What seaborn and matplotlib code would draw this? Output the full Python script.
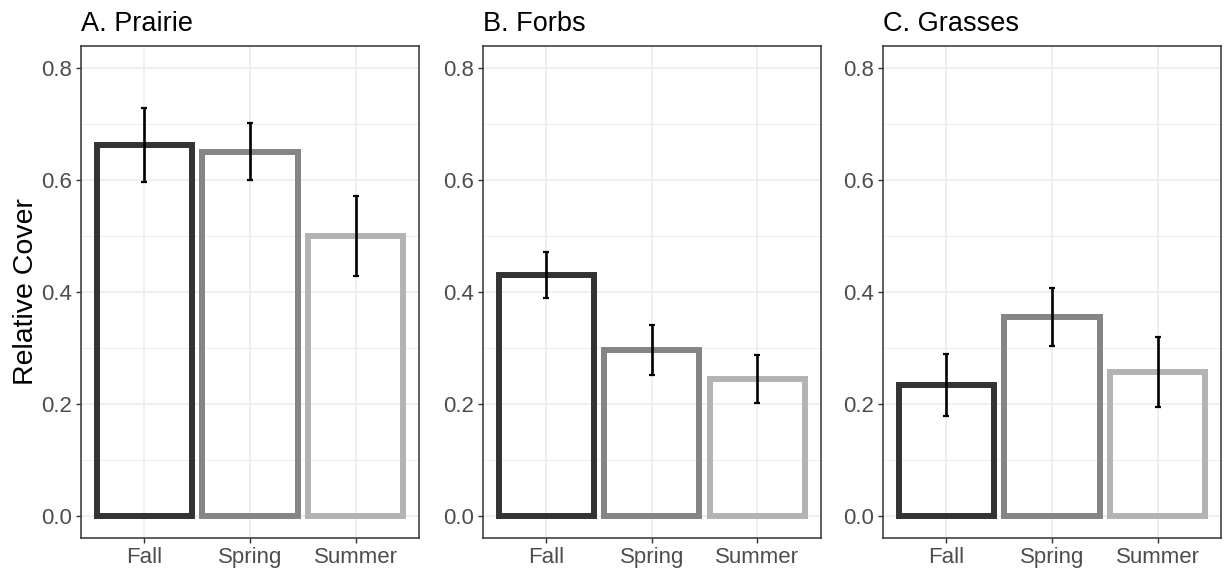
import matplotlib
matplotlib.use("Agg")
import matplotlib.pyplot as plt
import seaborn as sns
import pandas as pd
from matplotlib.ticker import FixedLocator

# Seasonal relative cover (mean and standard error) for each vegetation group
seasons = ["Fall", "Spring", "Summer"]
panel_titles = ["A. Prairie", "B. Forbs", "C. Grasses"]

prairie_mean = [0.663, 0.650, 0.500]
prairie_se = [0.066, 0.051, 0.071]
forbs_mean = [0.431, 0.296, 0.244]
forbs_se = [0.041, 0.045, 0.043]
grasses_mean = [0.234, 0.355, 0.257]
grasses_se = [0.055, 0.052, 0.062]

y_ticks = [0.0, 0.2, 0.4, 0.6, 0.8]
y_minor = [0.1, 0.3, 0.5, 0.7]
season_colors = {"Fall": "#333333", "Spring": "#858585", "Summer": "#b3b3b3"}

groups = [
    (panel_titles[0], prairie_mean, prairie_se),
    (panel_titles[1], forbs_mean, forbs_se),
    (panel_titles[2], grasses_mean, grasses_se),
]

sns.set_theme(style="white")
plt.rcParams["font.family"] = ["Liberation Sans", "DejaVu Sans"]

fig = plt.figure(figsize=(12.25, 5.76), dpi=100)
lefts = [81 / 1225, 482.7 / 1225, 883 / 1225]
width = 338 / 1225
bottom = 1 - 538.4 / 576
height = (538.4 - 45.5) / 576

for i, (title, means, ses) in enumerate(groups):
    ax = fig.add_axes([lefts[i], bottom, width, height])
    df = pd.DataFrame({"season": seasons, "cover": means, "se": ses})
    sns.barplot(
        data=df, x="season", y="cover", hue="season", order=seasons,
        hue_order=seasons, palette=season_colors, fill=False, width=0.9,
        linewidth=4.3, errorbar=None, legend=False, ax=ax,
    )
    for patch in ax.patches:
        patch.set_joinstyle("miter")
        patch.set_zorder(2)
    ax.errorbar(
        x=list(range(len(seasons))), y=df["cover"], yerr=df["se"],
        fmt="none", ecolor="black", elinewidth=1.9, capsize=1.9,
        capthick=1.6, zorder=3,
    )

    ax.set_xlim(-0.6, 2.6)
    ax.set_ylim(-0.04, 0.84)
    ax.yaxis.set_major_locator(FixedLocator(y_ticks))
    ax.yaxis.set_minor_locator(FixedLocator(y_minor))
    ax.set_yticklabels([f"{t:.1f}" for t in y_ticks])

    ax.set_axisbelow(True)
    ax.grid(True, which="major", color="#ebebeb", linewidth=1.1)
    ax.grid(True, which="minor", axis="y", color="#ebebeb", linewidth=0.6)

    for side in ["top", "right", "bottom", "left"]:
        ax.spines[side].set_visible(True)
        ax.spines[side].set_color("#333333")
        ax.spines[side].set_linewidth(1.1)

    ax.tick_params(axis="both", which="major", length=3.3, width=1.0,
                   color="#333333", labelsize=16, labelcolor="#4d4d4d",
                   pad=3, bottom=True, left=True)
    ax.tick_params(axis="y", which="minor", length=0)

    ax.set_xlabel("")
    if i == 0:
        ax.set_ylabel("Relative Cover", fontsize=20.5, color="black", labelpad=2)
    else:
        ax.set_ylabel("")
    ax.set_title(title, loc="left", fontsize=19.5, color="black", pad=10.5)

fig.savefig("out.png", dpi=100)
